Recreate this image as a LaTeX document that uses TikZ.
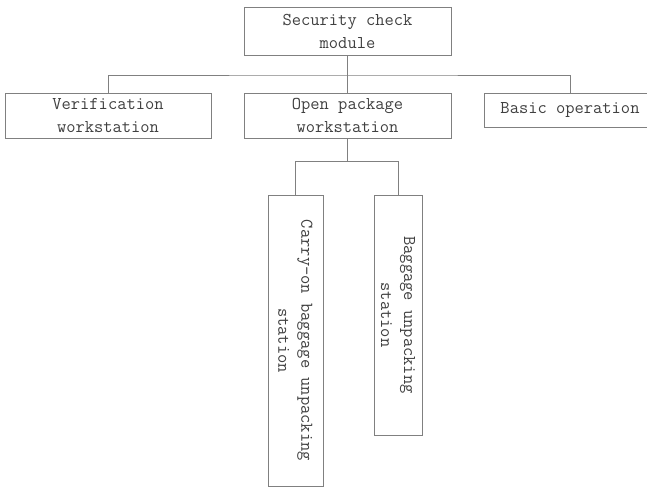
\documentclass[tikz,border=0pt]{standalone}
\usepackage{tikz}

\begin{document}
\begin{tikzpicture}[x=1pt,y=-1pt,line width=0.8pt,
  box/.style={draw=gray,text=black!75,align=center,inner sep=0pt,
    font=\fontsize{18}{23}\selectfont\ttfamily},
  vbox/.style={box,rotate=-90}]
  \useasboundingbox (0,0) rectangle (647,487);
  % first level
  \node [box,minimum width=207pt,minimum height=48pt] (top) at (347.5,31) {Security check\\module};
  \node [box,minimum width=206pt,minimum height=45pt] (ver) at (108,115.5) {Verification\\workstation};
  \node [box,minimum width=207pt,minimum height=45pt] (opn) at (347.5,115.5) {Open package\\workstation};
  \node [box,minimum width=172pt,minimum height=34pt] (bas) at (570,110) {Basic operation};
  % second level
  \node [vbox,minimum width=291pt,minimum height=55pt] (carry) at (295.5,340.5) {Carry-on baggage unpacking\\station};
  \node [vbox,minimum width=240pt,minimum height=48pt] (bag) at (398,315) {Baggage unpacking\\station};
  \coordinate (bus) at (347.5,75);
  \coordinate (bus2) at (347.5,161.5);
  \draw [gray] (top.south) -- (bus) -- (opn.north);
  \draw [gray] (ver.north) |- (bus) -| (bas.north);
  \draw [gray] (opn.south) -- (bus2);
  \draw [gray] (carry.west) |- (bus2) -| (bag.west);
\end{tikzpicture}
\end{document}
